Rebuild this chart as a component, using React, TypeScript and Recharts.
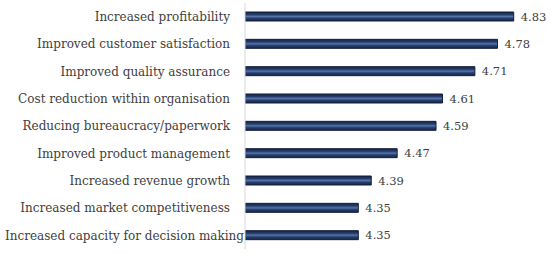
import React from "react";
import { BarChart, Bar, XAxis, YAxis, LabelList } from "recharts";

const categories = [
  "Increased profitability",
  "Improved customer satisfaction",
  "Improved quality assurance",
  "Cost reduction within organisation",
  "Reducing bureaucracy/paperwork",
  "Improved product management",
  "Increased revenue growth",
  "Increased market competitiveness",
  "Increased capacity for decision making",
];
const scores = [4.83, 4.78, 4.71, 4.61, 4.59, 4.47, 4.39, 4.35, 4.35];

const data = categories.map((name, i) => ({ name, value: scores[i] }));

const FONT = "DejaVu Serif";
const TEXT = "#404040";

const Tick = (props: any) => {
  const { x, y, payload } = props;
  const label: string = payload.value;
  const estWidth = label.length * 6.3;
  const endX = x - 7;
  const useStart = endX - estWidth < 5;
  return (
    <text
      x={useStart ? 5 : endX}
      y={y}
      dy={4.2}
      textAnchor={useStart ? "start" : "end"}
      style={{ fontFamily: FONT, fontSize: 12, fill: TEXT }}
    >
      {label}
    </text>
  );
};

export default function App() {
  return (
    <div style={{ position: "absolute", left: 0, top: 0 }}>
      <BarChart
        width={550}
        height={253}
        data={data}
        layout="vertical"
        margin={{ top: 3, right: 12, bottom: 4, left: 0 }}
        barCategoryGap={0}
      >
        <defs>
          <linearGradient id="barGrad" x1="0" y1="0" x2="0" y2="1">
            <stop offset="0%" stopColor="#172447" />
            <stop offset="30%" stopColor="#263e6c" />
            <stop offset="50%" stopColor="#5474ab" />
            <stop offset="70%" stopColor="#263e6c" />
            <stop offset="100%" stopColor="#172447" />
          </linearGradient>
        </defs>
        <XAxis type="number" domain={[4, 4.905]} hide allowDataOverflow />
        <YAxis
          type="category"
          dataKey="name"
          width={245}
          axisLine={{ stroke: "#d9d9d9", strokeWidth: 1 }}
          tickLine={false}
          tick={<Tick />}
          interval={0}
        />
        <Bar
          dataKey="value"
          barSize={9}
          fill="url(#barGrad)"
          stroke="#141f3d"
          strokeWidth={1}
          isAnimationActive={false}
        >
          <LabelList
            dataKey="value"
            position="right"
            offset={7}
            formatter={(v: any) => Number(v).toFixed(2)}
            style={{ fontFamily: FONT, fontSize: 11.5, fill: TEXT }}
          />
        </Bar>
      </BarChart>
    </div>
  );
}
